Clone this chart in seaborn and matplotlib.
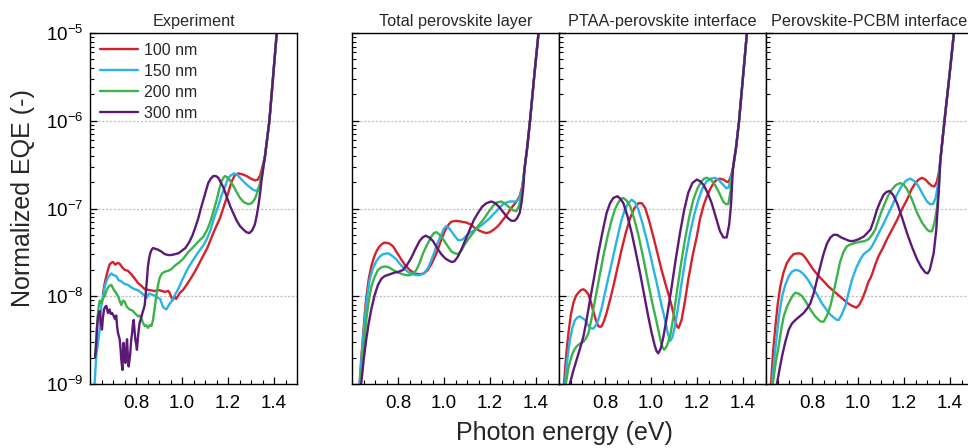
import matplotlib
matplotlib.use('Agg')
import matplotlib.pyplot as plt
import seaborn as sns
import pandas as pd
from matplotlib.ticker import MultipleLocator, NullFormatter, LogLocator

# film thicknesses and colours
thickness = ['100 nm', '150 nm', '200 nm', '300 nm']
colors = ['#d7212a', '#29b3e6', '#3bb34a', '#5c1a78']
panel_titles = ['Experiment', 'Total perovskite layer',
                'PTAA-perovskite interface', 'Perovskite-PCBM interface']
xtick_vals = [0.8, 1.0, 1.2, 1.4]
xtick_labels = ['0.8', '1.0', '1.2', '1.4']
ytick_vals = [1e-9, 1e-8, 1e-7, 1e-6, 1e-5]
ytick_labels = [r'$10^{-9}$', r'$10^{-8}$', r'$10^{-7}$', r'$10^{-6}$', r'$10^{-5}$']

# points: (photon energy in eV, log10 of normalized EQE)

# --- Experiment ---
exp_100 = [(0.656, -7.98), (0.664, -7.85), (0.671, -7.77), (0.678, -7.70), (0.685, -7.64), (0.692, -7.62),
           (0.700, -7.61), (0.710, -7.64), (0.720, -7.62), (0.729, -7.63), (0.740, -7.67), (0.751, -7.70),
           (0.765, -7.71), (0.780, -7.75), (0.795, -7.80), (0.809, -7.85), (0.823, -7.88), (0.838, -7.92),
           (0.860, -7.93), (0.881, -7.94), (0.900, -7.93), (0.925, -7.95), (0.940, -7.94), (0.946, -7.96),
           (0.955, -8.02), (0.961, -8.04), (0.968, -8.00), (0.975, -8.03), (0.991, -7.96), (1.004, -7.93),
           (1.020, -7.87), (1.040, -7.79), (1.060, -7.70), (1.084, -7.58), (1.110, -7.45), (1.136, -7.28),
           (1.165, -7.11), (1.194, -6.88), (1.216, -6.69), (1.230, -6.62), (1.245, -6.60), (1.262, -6.61),
           (1.281, -6.63), (1.300, -6.66), (1.317, -6.68), (1.330, -6.67), (1.340, -6.62), (1.352, -6.50)]
exp_150 = [(0.618, -9.20), (0.620, -9.00), (0.627, -8.68), (0.634, -8.55), (0.642, -8.38), (0.649, -8.11),
           (0.656, -8.00), (0.664, -7.89), (0.671, -7.83), (0.678, -7.79), (0.685, -7.76), (0.693, -7.74),
           (0.703, -7.76), (0.714, -7.77), (0.725, -7.82), (0.736, -7.83), (0.750, -7.86), (0.765, -7.87),
           (0.780, -7.90), (0.794, -7.92), (0.808, -7.93), (0.823, -7.96), (0.835, -7.99), (0.845, -8.02),
           (0.856, -7.97), (0.867, -7.98), (0.880, -7.99), (0.896, -8.02), (0.905, -8.03), (0.917, -8.12),
           (0.925, -8.14), (0.932, -8.15), (0.943, -8.10), (0.954, -8.06), (0.968, -7.99), (0.983, -7.92),
           (1.000, -7.82), (1.026, -7.68), (1.050, -7.58), (1.070, -7.50), (1.090, -7.43), (1.106, -7.36),
           (1.122, -7.26), (1.140, -7.10), (1.158, -6.97), (1.172, -6.85), (1.187, -6.75), (1.200, -6.66),
           (1.209, -6.63), (1.226, -6.60), (1.242, -6.62), (1.259, -6.67), (1.278, -6.72), (1.296, -6.76),
           (1.312, -6.79), (1.325, -6.80), (1.337, -6.75), (1.346, -6.67)]
exp_200 = [(0.622, -8.70), (0.630, -8.35), (0.636, -8.15), (0.642, -8.05), (0.650, -8.08), (0.657, -8.02),
           (0.664, -8.00), (0.671, -7.94), (0.678, -7.90), (0.685, -7.88), (0.693, -7.87), (0.700, -7.91),
           (0.707, -7.94), (0.715, -7.97), (0.722, -8.00), (0.730, -8.06), (0.736, -8.10), (0.744, -8.05),
           (0.751, -8.06), (0.760, -8.12), (0.772, -8.15), (0.783, -8.16), (0.794, -8.19), (0.809, -8.23),
           (0.816, -8.22), (0.823, -8.25), (0.830, -8.30), (0.838, -8.34), (0.845, -8.33), (0.852, -8.36),
           (0.860, -8.33), (0.867, -8.34), (0.874, -8.27), (0.881, -8.14), (0.888, -8.00), (0.895, -7.88),
           (0.903, -7.79), (0.913, -7.74), (0.925, -7.72), (0.940, -7.71), (0.954, -7.69), (0.970, -7.65),
           (0.990, -7.61), (1.006, -7.57), (1.026, -7.50), (1.049, -7.44), (1.070, -7.38), (1.093, -7.32),
           (1.108, -7.25), (1.122, -7.16), (1.137, -7.03), (1.151, -6.90), (1.162, -6.78), (1.172, -6.69),
           (1.180, -6.65), (1.187, -6.63), (1.200, -6.65), (1.216, -6.71), (1.235, -6.80), (1.252, -6.88),
           (1.270, -6.93), (1.288, -6.95), (1.303, -6.94), (1.317, -6.89), (1.330, -6.80), (1.339, -6.71),
           (1.350, -6.55)]
exp_300 = [(0.622, -8.70), (0.627, -8.55), (0.631, -8.35), (0.635, -8.23), (0.642, -8.17), (0.647, -8.30),
           (0.652, -8.38), (0.656, -8.25), (0.661, -8.15), (0.666, -8.12), (0.671, -8.11), (0.678, -8.19),
           (0.685, -8.15), (0.690, -8.20), (0.696, -8.19), (0.704, -8.23), (0.709, -8.26), (0.714, -8.22),
           (0.718, -8.35), (0.722, -8.42), (0.729, -8.49), (0.733, -8.60), (0.736, -8.72), (0.741, -8.84),
           (0.744, -8.62), (0.746, -8.53), (0.750, -8.70), (0.754, -8.76), (0.758, -8.58), (0.761, -8.49),
           (0.765, -8.70), (0.768, -8.80), (0.772, -8.72), (0.775, -8.65), (0.779, -8.50), (0.783, -8.42),
           (0.786, -8.33), (0.790, -8.27), (0.794, -8.40), (0.797, -8.49), (0.801, -8.55), (0.804, -8.61),
           (0.808, -8.48), (0.812, -8.38), (0.816, -8.30), (0.820, -8.27), (0.828, -8.19), (0.833, -8.15),
           (0.838, -8.10), (0.842, -7.98), (0.845, -7.89), (0.849, -7.76), (0.852, -7.66), (0.857, -7.57),
           (0.862, -7.51), (0.868, -7.47), (0.874, -7.45), (0.885, -7.46), (0.896, -7.47), (0.910, -7.49),
           (0.925, -7.52), (0.940, -7.53), (0.954, -7.53), (0.970, -7.52), (0.985, -7.51), (1.000, -7.48),
           (1.015, -7.45), (1.030, -7.39), (1.045, -7.31), (1.060, -7.20), (1.071, -7.11), (1.082, -7.00),
           (1.093, -6.90), (1.104, -6.80), (1.114, -6.71), (1.125, -6.66), (1.136, -6.63), (1.147, -6.63),
           (1.158, -6.65), (1.170, -6.71), (1.180, -6.76), (1.195, -6.87), (1.209, -6.97), (1.224, -7.06),
           (1.238, -7.14), (1.252, -7.20), (1.267, -7.24), (1.280, -7.27), (1.293, -7.28), (1.305, -7.25),
           (1.317, -7.18), (1.325, -7.08), (1.332, -6.97), (1.340, -6.82), (1.346, -6.67)]
rise_exp = [(1.361, -6.40), (1.380, -6.00), (1.396, -5.50), (1.412, -5.00), (1.445, -4.00)]

# --- Total perovskite layer ---
tot_100 = [(0.628, -9.20), (0.633, -9.00), (0.640, -8.72), (0.648, -8.45), (0.655, -8.22), (0.662, -8.02),
           (0.673, -7.80), (0.684, -7.66), (0.695, -7.56), (0.706, -7.49), (0.717, -7.44), (0.728, -7.41),
           (0.740, -7.39), (0.749, -7.39), (0.763, -7.40), (0.778, -7.43), (0.795, -7.50), (0.814, -7.58),
           (0.832, -7.65), (0.851, -7.70), (0.872, -7.74), (0.894, -7.75), (0.912, -7.74), (0.930, -7.70),
           (0.948, -7.62), (0.967, -7.51), (0.985, -7.38), (1.003, -7.26), (1.018, -7.19), (1.032, -7.15),
           (1.054, -7.14), (1.075, -7.15), (1.097, -7.16), (1.115, -7.18), (1.133, -7.22), (1.152, -7.25),
           (1.170, -7.27), (1.185, -7.28), (1.199, -7.27), (1.217, -7.24), (1.235, -7.20), (1.253, -7.14),
           (1.271, -7.08), (1.286, -7.02), (1.300, -6.97), (1.315, -6.92), (1.329, -6.86), (1.340, -6.75)]
tot_150 = [(0.628, -9.20), (0.633, -9.00), (0.644, -8.62), (0.655, -8.27), (0.666, -8.00), (0.677, -7.81),
           (0.691, -7.68), (0.706, -7.60), (0.720, -7.55), (0.735, -7.52), (0.757, -7.51), (0.775, -7.54),
           (0.793, -7.58), (0.811, -7.64), (0.829, -7.69), (0.847, -7.73), (0.865, -7.75), (0.880, -7.76),
           (0.894, -7.76), (0.912, -7.74), (0.930, -7.68), (0.945, -7.59), (0.959, -7.49), (0.974, -7.38),
           (0.988, -7.30), (1.000, -7.23), (1.010, -7.20), (1.021, -7.22), (1.032, -7.26), (1.046, -7.31),
           (1.061, -7.36), (1.072, -7.36), (1.083, -7.35), (1.097, -7.31), (1.112, -7.28), (1.130, -7.25),
           (1.148, -7.22), (1.163, -7.19), (1.177, -7.16), (1.195, -7.12), (1.213, -7.07), (1.235, -7.01),
           (1.257, -6.95), (1.272, -6.93), (1.286, -6.92), (1.300, -6.92), (1.314, -6.92), (1.328, -6.88),
           (1.340, -6.78)]
tot_200 = [(0.631, -9.20), (0.636, -9.00), (0.649, -8.62), (0.662, -8.27), (0.673, -8.05), (0.684, -7.89),
           (0.698, -7.78), (0.713, -7.70), (0.728, -7.67), (0.742, -7.66), (0.760, -7.67), (0.778, -7.70),
           (0.800, -7.73), (0.822, -7.75), (0.836, -7.76), (0.851, -7.76), (0.866, -7.74), (0.880, -7.70),
           (0.894, -7.62), (0.909, -7.51), (0.927, -7.41), (0.945, -7.32), (0.956, -7.28), (0.967, -7.27),
           (0.981, -7.30), (0.996, -7.35), (1.014, -7.42), (1.032, -7.49), (1.046, -7.51), (1.061, -7.52),
           (1.075, -7.48), (1.090, -7.41), (1.108, -7.34), (1.126, -7.28), (1.148, -7.20), (1.170, -7.13),
           (1.191, -7.05), (1.213, -6.97), (1.231, -6.93), (1.249, -6.92), (1.267, -6.95), (1.286, -6.99),
           (1.300, -7.02), (1.314, -7.03), (1.325, -6.98), (1.335, -6.88), (1.343, -6.75)]
tot_300 = [(0.635, -9.20), (0.640, -9.00), (0.651, -8.72), (0.662, -8.49), (0.673, -8.30), (0.684, -8.15),
           (0.698, -7.99), (0.713, -7.87), (0.728, -7.80), (0.742, -7.77), (0.764, -7.75), (0.786, -7.73),
           (0.804, -7.72), (0.822, -7.70), (0.840, -7.64), (0.858, -7.56), (0.876, -7.46), (0.894, -7.37),
           (0.907, -7.33), (0.920, -7.31), (0.936, -7.33), (0.952, -7.37), (0.970, -7.45), (0.988, -7.52),
           (1.006, -7.57), (1.025, -7.60), (1.036, -7.61), (1.046, -7.60), (1.060, -7.55), (1.075, -7.47),
           (1.093, -7.36), (1.112, -7.24), (1.130, -7.13), (1.148, -7.05), (1.166, -6.98), (1.184, -6.94),
           (1.206, -6.92), (1.224, -6.94), (1.242, -6.99), (1.260, -7.05), (1.278, -7.11), (1.293, -7.14),
           (1.307, -7.14), (1.318, -7.11), (1.329, -7.05), (1.338, -6.92), (1.345, -6.75)]
rise_tot = [(1.350, -6.55), (1.362, -6.30), (1.374, -6.00), (1.392, -5.50), (1.411, -5.00), (1.448, -4.00)]

# --- PTAA-perovskite interface ---
pt_100 = [(0.618, -9.20), (0.622, -8.99), (0.631, -8.68), (0.641, -8.42), (0.651, -8.22), (0.662, -8.08),
          (0.673, -8.00), (0.684, -7.96), (0.695, -7.93), (0.706, -7.92), (0.717, -7.94), (0.728, -7.98),
          (0.738, -8.06), (0.749, -8.17), (0.760, -8.27), (0.771, -8.34), (0.779, -8.35), (0.786, -8.34),
          (0.796, -8.28), (0.807, -8.19), (0.822, -8.04), (0.836, -7.89), (0.854, -7.68), (0.872, -7.47),
          (0.890, -7.28), (0.909, -7.11), (0.927, -7.00), (0.945, -6.94), (0.960, -6.94), (0.974, -6.99),
          (0.992, -7.14), (1.010, -7.32), (1.028, -7.51), (1.046, -7.70), (1.065, -7.88), (1.083, -8.04),
          (1.098, -8.20), (1.112, -8.34), (1.120, -8.36), (1.133, -8.27), (1.148, -8.05), (1.162, -7.81),
          (1.180, -7.55), (1.199, -7.32), (1.213, -7.12), (1.228, -6.97), (1.243, -6.86), (1.257, -6.78),
          (1.272, -6.71), (1.286, -6.67), (1.300, -6.66), (1.314, -6.67), (1.326, -6.69), (1.336, -6.70),
          (1.345, -6.65)]
pt_150 = [(0.621, -9.20), (0.626, -8.99), (0.637, -8.70), (0.648, -8.49), (0.659, -8.35), (0.670, -8.27),
          (0.681, -8.24), (0.691, -8.23), (0.702, -8.25), (0.713, -8.27), (0.724, -8.32), (0.735, -8.36),
          (0.749, -8.37), (0.760, -8.33), (0.771, -8.27), (0.786, -8.13), (0.800, -7.96), (0.818, -7.75),
          (0.836, -7.54), (0.854, -7.33), (0.872, -7.13), (0.887, -7.01), (0.901, -6.94), (0.916, -6.90),
          (0.930, -6.93), (0.945, -7.01), (0.963, -7.17), (0.981, -7.35), (1.003, -7.60), (1.025, -7.85),
          (1.043, -8.07), (1.061, -8.27), (1.072, -8.41), (1.083, -8.51), (1.093, -8.47), (1.104, -8.34),
          (1.118, -8.12), (1.133, -7.85), (1.151, -7.55), (1.170, -7.28), (1.188, -7.07), (1.206, -6.90),
          (1.224, -6.77), (1.242, -6.69), (1.260, -6.66), (1.278, -6.65), (1.296, -6.68), (1.314, -6.73),
          (1.328, -6.77), (1.338, -6.76), (1.348, -6.65)]
pt_200 = [(0.625, -9.20), (0.630, -8.99), (0.642, -8.80), (0.655, -8.68), (0.666, -8.61), (0.677, -8.57),
          (0.691, -8.54), (0.706, -8.52), (0.717, -8.48), (0.728, -8.42), (0.742, -8.25), (0.757, -8.04),
          (0.775, -7.79), (0.793, -7.54), (0.811, -7.32), (0.829, -7.13), (0.843, -7.01), (0.858, -6.93),
          (0.869, -6.89), (0.880, -6.88), (0.894, -6.91), (0.909, -6.97), (0.927, -7.12), (0.945, -7.30),
          (0.967, -7.57), (0.988, -7.85), (1.006, -8.08), (1.025, -8.30), (1.041, -8.50), (1.050, -8.58),
          (1.057, -8.61), (1.068, -8.57), (1.083, -8.46), (1.097, -8.24), (1.112, -7.96), (1.130, -7.64),
          (1.148, -7.35), (1.166, -7.10), (1.184, -6.90), (1.202, -6.77), (1.220, -6.69), (1.231, -6.66),
          (1.242, -6.65), (1.260, -6.67), (1.278, -6.73), (1.296, -6.82), (1.314, -6.92), (1.325, -6.95),
          (1.336, -6.95), (1.346, -6.80)]
pt_300 = [(0.644, -9.20), (0.648, -8.99), (0.662, -8.85), (0.677, -8.72), (0.691, -8.60), (0.706, -8.46),
          (0.720, -8.27), (0.735, -8.04), (0.753, -7.78), (0.771, -7.51), (0.789, -7.27), (0.807, -7.05),
          (0.822, -6.94), (0.836, -6.88), (0.854, -6.86), (0.867, -6.89), (0.880, -6.94), (0.898, -7.09),
          (0.916, -7.28), (0.934, -7.50), (0.952, -7.73), (0.970, -7.98), (0.988, -8.23), (1.003, -8.42),
          (1.017, -8.57), (1.025, -8.63), (1.032, -8.65), (1.043, -8.59), (1.054, -8.46), (1.072, -8.19),
          (1.090, -7.89), (1.108, -7.57), (1.126, -7.28), (1.144, -7.02), (1.162, -6.82), (1.180, -6.71),
          (1.199, -6.67), (1.214, -6.69), (1.228, -6.73), (1.246, -6.82), (1.264, -6.94), (1.282, -7.10),
          (1.300, -7.26), (1.315, -7.33), (1.329, -7.33), (1.340, -7.18), (1.348, -6.95)]
rise_pt = [(1.356, -6.55), (1.370, -6.30), (1.383, -6.00), (1.400, -5.50), (1.417, -5.00), (1.451, -4.00)]

# --- Perovskite-PCBM interface ---
pc_100 = [(0.618, -9.20), (0.622, -8.99), (0.631, -8.62), (0.641, -8.34), (0.651, -8.09), (0.662, -7.89),
          (0.676, -7.73), (0.691, -7.62), (0.706, -7.56), (0.720, -7.52), (0.742, -7.51), (0.757, -7.52),
          (0.771, -7.56), (0.789, -7.63), (0.807, -7.70), (0.829, -7.77), (0.851, -7.83), (0.872, -7.89),
          (0.894, -7.94), (0.916, -7.99), (0.938, -8.04), (0.956, -8.08), (0.974, -8.11), (0.993, -8.13),
          (1.005, -8.10), (1.017, -8.04), (1.032, -7.94), (1.046, -7.83), (1.053, -7.80), (1.061, -7.75),
          (1.075, -7.64), (1.090, -7.54), (1.108, -7.45), (1.126, -7.35), (1.148, -7.24), (1.170, -7.13),
          (1.191, -7.01), (1.213, -6.90), (1.231, -6.79), (1.249, -6.71), (1.264, -6.67), (1.278, -6.65),
          (1.293, -6.67), (1.307, -6.71), (1.320, -6.74), (1.332, -6.75), (1.342, -6.70), (1.351, -6.60)]
pc_150 = [(0.621, -9.20), (0.626, -8.99), (0.637, -8.70), (0.648, -8.42), (0.659, -8.18), (0.670, -8.00),
          (0.684, -7.87), (0.699, -7.77), (0.713, -7.72), (0.728, -7.70), (0.746, -7.71), (0.764, -7.75),
          (0.782, -7.81), (0.800, -7.89), (0.822, -7.98), (0.843, -8.08), (0.862, -8.15), (0.880, -8.21),
          (0.898, -8.25), (0.909, -8.27), (0.916, -8.27), (0.927, -8.22), (0.945, -8.11), (0.960, -7.95),
          (0.974, -7.81), (0.992, -7.68), (1.010, -7.58), (1.025, -7.52), (1.039, -7.49), (1.050, -7.47),
          (1.061, -7.43), (1.075, -7.36), (1.090, -7.28), (1.108, -7.19), (1.126, -7.09), (1.148, -6.97),
          (1.170, -6.84), (1.188, -6.75), (1.206, -6.69), (1.217, -6.67), (1.228, -6.66), (1.246, -6.69),
          (1.264, -6.75), (1.282, -6.84), (1.300, -6.92), (1.313, -6.95), (1.326, -6.95), (1.338, -6.88),
          (1.350, -6.68)]
pc_200 = [(0.625, -9.20), (0.630, -8.99), (0.642, -8.76), (0.655, -8.57), (0.666, -8.38), (0.677, -8.23),
          (0.691, -8.12), (0.706, -8.04), (0.717, -7.99), (0.728, -7.96), (0.742, -7.97), (0.757, -8.00),
          (0.775, -8.07), (0.793, -8.15), (0.811, -8.22), (0.829, -8.27), (0.840, -8.29), (0.851, -8.29),
          (0.865, -8.22), (0.880, -8.11), (0.894, -7.95), (0.909, -7.77), (0.923, -7.60), (0.938, -7.49),
          (0.952, -7.43), (0.967, -7.41), (0.990, -7.39), (1.010, -7.38), (1.030, -7.37), (1.046, -7.35),
          (1.061, -7.30), (1.075, -7.24), (1.093, -7.10), (1.112, -6.97), (1.130, -6.86), (1.148, -6.78),
          (1.166, -6.73), (1.184, -6.71), (1.199, -6.73), (1.213, -6.78), (1.235, -6.90), (1.257, -7.05),
          (1.278, -7.16), (1.300, -7.24), (1.311, -7.26), (1.322, -7.26), (1.333, -7.15), (1.343, -7.00),
          (1.352, -6.75)]
pc_300 = [(0.644, -9.20), (0.648, -8.99), (0.659, -8.83), (0.670, -8.68), (0.684, -8.52), (0.699, -8.38),
          (0.713, -8.31), (0.728, -8.27), (0.746, -8.23), (0.764, -8.19), (0.779, -8.14), (0.793, -8.08),
          (0.808, -7.96), (0.822, -7.81), (0.836, -7.66), (0.851, -7.51), (0.865, -7.40), (0.880, -7.33),
          (0.894, -7.30), (0.909, -7.30), (0.927, -7.33), (0.945, -7.35), (0.963, -7.37), (0.981, -7.37),
          (1.003, -7.35), (1.025, -7.32), (1.040, -7.28), (1.054, -7.24), (1.068, -7.14), (1.083, -7.01),
          (1.097, -6.92), (1.112, -6.84), (1.125, -6.81), (1.138, -6.80), (1.154, -6.85), (1.170, -6.94),
          (1.191, -7.10), (1.213, -7.28), (1.235, -7.44), (1.257, -7.58), (1.275, -7.67), (1.293, -7.73),
          (1.303, -7.74), (1.312, -7.70), (1.321, -7.60), (1.329, -7.51), (1.340, -7.25), (1.350, -6.85)]
rise_pc = [(1.358, -6.45), (1.376, -6.00), (1.397, -5.50), (1.417, -5.00), (1.458, -4.00)]

panels = [[exp_100, exp_150, exp_200, exp_300],
          [tot_100, tot_150, tot_200, tot_300],
          [pt_100, pt_150, pt_200, pt_300],
          [pc_100, pc_150, pc_200, pc_300]]
rises = [rise_exp, rise_tot, rise_pt, rise_pc]

rows = []
for title, series, rise in zip(panel_titles, panels, rises):
    for lab, pts in zip(thickness, series):
        for e, lq in pts + rise:
            rows.append((title, lab, e, 10 ** lq))
df = pd.DataFrame(rows, columns=['panel', 'thickness', 'energy', 'eqe'])

sns.set_theme(style='ticks')
plt.rcParams['font.family'] = ['Liberation Sans', 'DejaVu Sans']
plt.rcParams['mathtext.fontset'] = 'custom'
plt.rcParams['mathtext.rm'] = 'Liberation Sans'
plt.rcParams['mathtext.it'] = 'Liberation Sans:italic'
plt.rcParams['mathtext.bf'] = 'Liberation Sans:bold'

W, H = 968, 448
fig = plt.figure(figsize=(W / 100, H / 100), dpi=100)
lefts = [90, 352, 559, 766]

for i, title in enumerate(panel_titles):
    ax = fig.add_axes([lefts[i] / W, 64 / H, 207 / W, 351 / H])
    ax.set_yscale('log')
    sub = df[df['panel'] == title]
    sns.lineplot(data=sub, x='energy', y='eqe', hue='thickness', hue_order=thickness,
                 palette=colors, estimator=None, sort=False, linewidth=1.7,
                 ax=ax, legend=(i == 0))
    ax.set_xlim(0.6, 1.5)
    ax.set_ylim(1e-9, 1e-5)
    ax.set_xticks(xtick_vals)
    ax.set_xticklabels(xtick_labels)
    ax.xaxis.set_minor_locator(MultipleLocator(0.05))
    ax.set_yticks(ytick_vals)
    ax.yaxis.set_minor_locator(LogLocator(base=10, subs=range(2, 10)))
    ax.yaxis.set_minor_formatter(NullFormatter())
    if i == 0:
        ax.set_yticklabels(ytick_labels)
    else:
        ax.set_yticklabels([])
    ax.tick_params(which='both', direction='in', top=False, right=False, colors='black', labelsize=13.5)
    ax.tick_params(which='major', length=5, width=0.9)
    ax.tick_params(which='minor', length=3, width=0.8)
    ax.tick_params(axis='x', pad=8)
    ax.tick_params(axis='y', pad=5)
    ax.grid(axis='y', which='major', linestyle=(0, (1.8, 1.3)), color='#c0c0c0', linewidth=0.9)
    ax.grid(axis='x', visible=False)
    for sp in ax.spines.values():
        sp.set_color('black')
        sp.set_linewidth(1.0)
    ax.set_xlabel('')
    ax.set_ylabel('')
    ax.set_title(title, fontsize=11.7, pad=5)
    if i == 0:
        sns.move_legend(ax, 'upper left', title=None, frameon=False, fontsize=11.5,
                        handlelength=2.4, handletextpad=0.35, labelspacing=0.38,
                        borderaxespad=0.3, borderpad=0.3)
        for line in ax.get_legend().get_lines():
            line.set_linewidth(1.7)

fig.text(0.024, 0.558, 'Normalized EQE (-)', rotation=90, ha='center', va='center', fontsize=18)
fig.text(0.583, 0.034, 'Photon energy (eV)', ha='center', va='center', fontsize=18)

fig.savefig('out.png', dpi=100)
